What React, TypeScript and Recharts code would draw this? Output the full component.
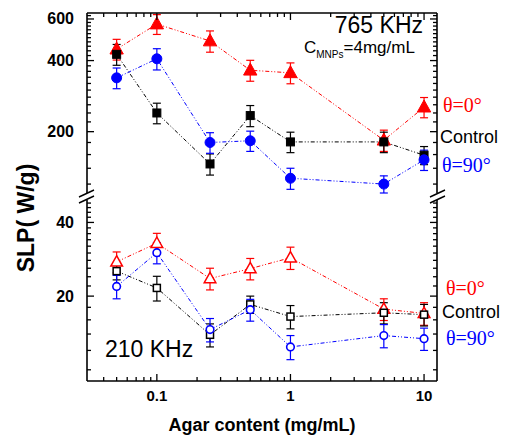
import { ComposedChart, Line, XAxis, YAxis, ErrorBar } from "recharts"

// x values (agar content, mg/mL)
const agar = [0.05, 0.1, 0.25, 0.5, 1, 5, 10]

// 765 KHz panel (top)
const hiTheta0 = [447, 571, 484, 364, 355, 184, 254]
const hiTheta0Err = [45, 55, 50, 37, 36, 19, 25]
const hiControl = [425, 240, 146, 234, 181, 181, 159]
const hiControlErr = [43, 24, 15, 24, 18, 18, 14]
const hiTheta90 = [338, 407, 180, 183, 127, 120, 152]
const hiTheta90Err = [34, 42, 18, 18, 13, 10, 15]

// 210 KHz panel (bottom)
const loTheta0 = [27.6, 32.9, 23.6, 25.9, 28.7, 17.7, 17.0]
const loTheta0Err = [2.7, 3.2, 2.4, 2.6, 3.0, 1.8, 1.8]
const loControl = [25.3, 21.6, 13.9, 18.5, 16.5, 17.1, 16.8]
const loControlErr = [2.0, 2.5, 1.5, 1.5, 1.8, 1.7, 1.7]
const loTheta90 = [21.9, 30.1, 14.6, 17.6, 12.4, 13.8, 13.4]
const loTheta90Err = [2.4, 3.0, 1.6, 1.8, 1.4, 1.5, 1.4]

// ticks
const xMajor = [0.1, 1, 10]
const xMinor = [0.04, 0.05, 0.06, 0.07, 0.08, 0.09, 0.2, 0.3, 0.4, 0.5, 0.6, 0.7, 0.8, 0.9, 2, 3, 4, 5, 6, 7, 8, 9]
const topYMajor = [200, 400, 600]
const botYMajor = [20, 40]

const topYTicks = Array.from({ length: 26 }, (_, i) => 120 + i * 20)
const botYTicks = Array.from({ length: 20 }, (_, i) => 10 + i * 2)

const RED = "#ff0000"
const BLUE = "#0000ff"
const SANS = "Liberation Sans, Arial, sans-serif"
const SERIF = "Liberation Serif"

const W = 505
const H = 437
const X_DOMAIN = [0.03, 12.5]

const topData = agar.map((x, i) => ({
  x,
  t0: hiTheta0[i],
  t0e: hiTheta0Err[i],
  c: hiControl[i],
  ce: hiControlErr[i],
  t90: hiTheta90[i],
  t90e: hiTheta90Err[i],
}))

const botData = agar.map((x, i) => ({
  x,
  t0: loTheta0[i],
  t0e: loTheta0Err[i],
  c: loControl[i],
  ce: loControlErr[i],
  t90: loTheta90[i],
  t90e: loTheta90Err[i],
}))

/* ---------- markers ---------- */

const triangle = (color: string, filled: boolean, s: number) => (p: any) => {
  const { cx, cy, index } = p
  if (cx == null || cy == null) return <g key={`t${index}`} />
  return (
    <path
      key={`t${index}`}
      d={`M${cx},${cy - s * 0.62} L${cx + s * 0.58},${cy + s * 0.42} L${cx - s * 0.58},${cy + s * 0.42} Z`}
      fill={filled ? color : "#fff"}
      stroke={color}
      strokeWidth={filled ? 1 : 1.5}
    />
  )
}

const square = (color: string, filled: boolean, s: number) => (p: any) => {
  const { cx, cy, index } = p
  if (cx == null || cy == null) return <g key={`s${index}`} />
  return (
    <rect
      key={`s${index}`}
      x={cx - s / 2}
      y={cy - s / 2}
      width={s}
      height={s}
      fill={filled ? color : "#fff"}
      stroke={color}
      strokeWidth={filled ? 1 : 1.5}
    />
  )
}

const circle = (color: string, filled: boolean, r: number) => (p: any) => {
  const { cx, cy, index } = p
  if (cx == null || cy == null) return <g key={`c${index}`} />
  return (
    <circle
      key={`c${index}`}
      cx={cx}
      cy={cy}
      r={r}
      fill={filled ? color : "#fff"}
      stroke={color}
      strokeWidth={filled ? 1 : 1.6}
    />
  )
}

/* ---------- axis ticks (inward marks + outer labels) ---------- */

function AxisTick(props: any) {
  const { x, y, payload, side, majors, showLabel } = props
  const v = payload.value
  const major = majors.includes(v)
  const len = major ? 7 : 4
  let mark
  if (side === "left") mark = <line x1={x} y1={y} x2={x + len} y2={y} />
  else if (side === "right") mark = <line x1={x} y1={y} x2={x - len} y2={y} />
  else if (side === "top") mark = <line x1={x} y1={y} x2={x} y2={y + len} />
  else mark = <line x1={x} y1={y} x2={x} y2={y - len} />

  let label = null
  if (showLabel && major) {
    if (side === "left") {
      label = (
        <text x={x - 13} y={y} dy={5.5} textAnchor="end" style={{ fontFamily: SANS }} fontWeight="bold" fontSize={16} fill="#000">
          {v}
        </text>
      )
    } else if (side === "bottom") {
      label = (
        <text x={x} y={y + 20} textAnchor="middle" style={{ fontFamily: SANS }} fontWeight="bold" fontSize={15} fill="#000">
          {v}
        </text>
      )
    }
  }
  return (
    <g stroke="#000" strokeWidth={1.3}>
      {mark}
      {label && <g stroke="none">{label}</g>}
    </g>
  )
}

const axisLine = { stroke: "#000", strokeWidth: 1.6 }
const dashes = "4 2 1 2 1 2"

export default function App() {
  return (
    <div style={{ position: "absolute", left: 0, top: 0, width: W, height: H, background: "#fff" }}>
      {/* 765 KHz panel */}
      <div style={{ position: "absolute", left: 0, top: 0 }}>
        <ComposedChart width={W} height={200} data={topData} margin={{ top: 12, right: 67, bottom: 7, left: 0 }}>
          <XAxis dataKey="x" type="number" scale="log" domain={X_DOMAIN} allowDataOverflow hide />
          <XAxis
            xAxisId="top"
            dataKey="x"
            orientation="top"
            type="number"
            scale="log"
            domain={X_DOMAIN}
            allowDataOverflow
            height={1}
            ticks={[...xMinor, ...xMajor]}
            interval={0}
            tickSize={0}
            tickMargin={0}
            tickLine={false}
            axisLine={axisLine}
            tick={(p: any) => <AxisTick {...p} side="top" majors={xMajor} showLabel={false} />}
          />
          <YAxis
            type="number"
            scale="log"
            domain={[110, 636]}
            allowDataOverflow
            width={87}
            ticks={topYTicks}
            interval={0}
            tickSize={0}
            tickMargin={0}
            tickLine={false}
            axisLine={axisLine}
            tick={(p: any) => <AxisTick {...p} side="left" majors={topYMajor} showLabel />}
          />
          <YAxis
            yAxisId="r"
            orientation="right"
            type="number"
            scale="log"
            domain={[110, 636]}
            allowDataOverflow
            width={1}
            ticks={topYTicks}
            interval={0}
            tickSize={0}
            tickMargin={0}
            tickLine={false}
            axisLine={axisLine}
            tick={(p: any) => <AxisTick {...p} side="right" majors={topYMajor} showLabel={false} />}
          />
          {/* invisible series that binds the mirrored frame axes */}
          <Line xAxisId="top" yAxisId="r" dataKey="c" stroke="none" dot={false} activeDot={false} legendType="none" isAnimationActive={false} />
          <Line dataKey="t0" stroke={RED} strokeWidth={1} strokeDasharray={dashes} dot={triangle(RED, true, 11.5)} activeDot={false} isAnimationActive={false}>
            <ErrorBar dataKey="t0e" direction="y" width={4} stroke={RED} strokeWidth={1.2} />
          </Line>
          <Line dataKey="c" stroke="#000" strokeWidth={1} strokeDasharray={dashes} dot={square("#000", true, 8)} activeDot={false} isAnimationActive={false}>
            <ErrorBar dataKey="ce" direction="y" width={4} stroke="#000" strokeWidth={1.2} />
          </Line>
          <Line dataKey="t90" stroke={BLUE} strokeWidth={1} strokeDasharray={dashes} dot={circle(BLUE, true, 5)} activeDot={false} isAnimationActive={false}>
            <ErrorBar dataKey="t90e" direction="y" width={4} stroke={BLUE} strokeWidth={1.2} />
          </Line>
        </ComposedChart>
      </div>

      {/* 210 KHz panel */}
      <div style={{ position: "absolute", left: 0, top: 0 }}>
        <ComposedChart width={W} height={H} data={botData} margin={{ top: 200, right: 67, bottom: 0, left: 0 }}>
          <XAxis
            dataKey="x"
            type="number"
            scale="log"
            domain={X_DOMAIN}
            allowDataOverflow
            height={56}
            ticks={[...xMinor, ...xMajor]}
            interval={0}
            tickSize={0}
            tickMargin={0}
            tickLine={false}
            axisLine={axisLine}
            tick={(p: any) => <AxisTick {...p} side="bottom" majors={xMajor} showLabel />}
            label={{
              value: "Agar content (mg/mL)",
              position: "insideBottom",
              offset: 6,
              style: { fontFamily: SANS, fontWeight: "bold", fontSize: 18, fill: "#000" },
            }}
          />
          <YAxis
            type="number"
            scale="log"
            domain={[9, 49.4]}
            allowDataOverflow
            width={87}
            ticks={botYTicks}
            interval={0}
            tickSize={0}
            tickMargin={0}
            tickLine={false}
            axisLine={axisLine}
            tick={(p: any) => <AxisTick {...p} side="left" majors={botYMajor} showLabel />}
          />
          <YAxis
            yAxisId="r"
            orientation="right"
            type="number"
            scale="log"
            domain={[9, 49.4]}
            allowDataOverflow
            width={1}
            ticks={botYTicks}
            interval={0}
            tickSize={0}
            tickMargin={0}
            tickLine={false}
            axisLine={axisLine}
            tick={(p: any) => <AxisTick {...p} side="right" majors={botYMajor} showLabel={false} />}
          />
          <Line yAxisId="r" dataKey="c" stroke="none" dot={false} activeDot={false} legendType="none" isAnimationActive={false} />
          <Line dataKey="t0" stroke={RED} strokeWidth={1} strokeDasharray={dashes} dot={triangle(RED, false, 10)} activeDot={false} isAnimationActive={false}>
            <ErrorBar dataKey="t0e" direction="y" width={4} stroke={RED} strokeWidth={1.2} />
          </Line>
          <Line dataKey="c" stroke="#000" strokeWidth={1} strokeDasharray={dashes} dot={square("#000", false, 7)} activeDot={false} isAnimationActive={false}>
            <ErrorBar dataKey="ce" direction="y" width={4} stroke="#000" strokeWidth={1.2} />
          </Line>
          <Line dataKey="t90" stroke={BLUE} strokeWidth={1} strokeDasharray={dashes} dot={circle(BLUE, false, 3.8)} activeDot={false} isAnimationActive={false}>
            <ErrorBar dataKey="t90e" direction="y" width={4} stroke={BLUE} strokeWidth={1.2} />
          </Line>
        </ComposedChart>
      </div>

      {/* annotations, axis title, axis breaks */}
      <svg width={W} height={H} style={{ position: "absolute", left: 0, top: 0, pointerEvents: "none" }}>
        <text x={26} y={218} transform="rotate(-90 26 218)" textAnchor="middle" dominantBaseline="central" style={{ fontFamily: SANS }} fontWeight="bold" fontSize={23}>
          SLP( W/g)
        </text>

        <text x={423} y={33} textAnchor="end" style={{ fontFamily: SANS }} fontSize={23}>765 KHz</text>
        <text x={304} y={53} style={{ fontFamily: SANS }} fontSize={17}>
          C<tspan fontSize={10} dy={5}>MNPs</tspan><tspan dy={-5}>=4mg/mL</tspan>
        </text>
        <text x={105} y={357} style={{ fontFamily: SANS }} fontSize={23}>210 KHz</text>

        <text x={443} y={112} fontFamily={SERIF} fontSize={20} fill={RED}>θ=0°</text>
        <text x={440} y={143} style={{ fontFamily: SANS }} fontSize={18} fill="#000">Control</text>
        <text x={442} y={172} fontFamily={SERIF} fontSize={20} fill={BLUE}>θ=90°</text>

        <text x={446} y={295} fontFamily={SERIF} fontSize={20} fill={RED}>θ=0°</text>
        <text x={442} y={318} style={{ fontFamily: SANS }} fontSize={18} fill="#000">Control</text>
        <text x={446} y={345} fontFamily={SERIF} fontSize={20} fill={BLUE}>θ=90°</text>

        <g stroke="#000" strokeWidth={1.4}>
          <line x1={79} y1={197} x2={94} y2={190} />
          <line x1={79} y1={203} x2={94} y2={196} />
          <line x1={430} y1={197} x2={445} y2={190} />
          <line x1={430} y1={203} x2={445} y2={196} />
        </g>
      </svg>
    </div>
  )
}
